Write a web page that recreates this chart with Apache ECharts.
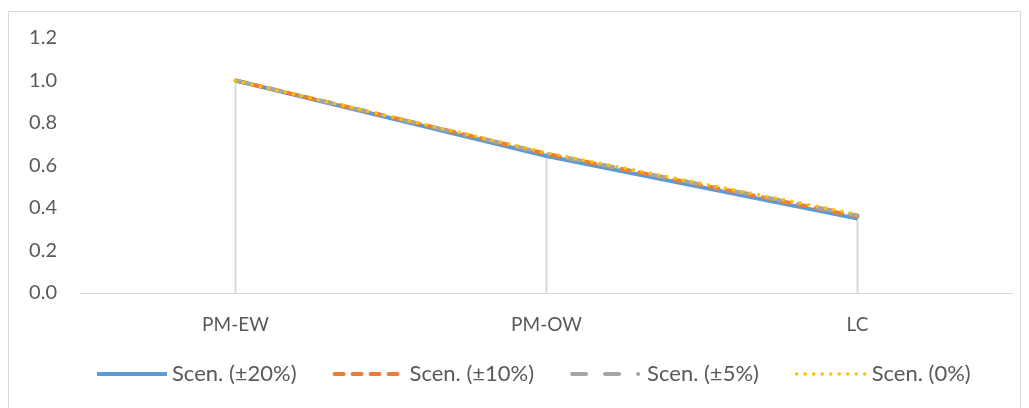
<!DOCTYPE html>
<html>
<head>
<meta charset="utf-8">
<script src="https://cdn.jsdelivr.net/npm/echarts@6/dist/echarts.min.js"></script>
<style>
  html, body { margin: 0; padding: 0; background: #fff; }
  #frame { position: absolute; left: 8px; top: 11px; width: 1013px; height: 400px; border: 1px solid #d9d9d9; box-sizing: border-box; }
  #chart { position: absolute; left: 0; top: 0; width: 1029px; height: 408px; }
</style>
</head>
<body>
<div id="frame"></div>
<div id="chart"></div>
<script>
// Categories and scenario values
const categories = ['PM-EW', 'PM-OW', 'LC'];
const scen20 = [1.0, 0.645, 0.35];
const scen10 = [1.0, 0.655, 0.36];
const scen5  = [1.0, 0.655, 0.365];
const scen0  = [1.0, 0.66, 0.37];
const seriesNames = ['Scen. (±20%)', 'Scen. (±10%)', 'Scen. (±5%)', 'Scen. (0%)'];
const yTicks = [0, 0.2, 0.4, 0.6, 0.8, 1.0, 1.2];

// drop lines reach up to the highest scenario at each category
const dropTops = categories.map((_, i) => Math.max(scen20[i], scen10[i], scen5[i], scen0[i]));

const font = 'Lato, "Open Sans", sans-serif';
const chart = echarts.init(document.getElementById('chart'));

const styles = [
  { color: '#5b9bd5', type: 'solid', width: 4, cap: 'butt' },
  { color: '#ed7d31', type: [9, 9], width: 4, cap: 'round' },
  { color: '#a5a5a5', type: [14, 19, 14, 19, 0.1, 19], width: 4, cap: 'round' },
  { color: '#ffc000', type: [0.1, 8.4], width: 3.5, cap: 'round' }
];
const values = [scen20, scen10, scen5, scen0];

const lines = seriesNames.map((name, i) => ({
  name, type: 'line', data: values[i], symbol: 'none', z: 3 + i,
  lineStyle: Object.assign({}, styles[i]),
  itemStyle: { color: styles[i].color }
}));

chart.setOption({
  animation: false,
  grid: { left: 80, right: 16, top: 38, bottom: 115 },
  xAxis: {
    type: 'category', data: categories, boundaryGap: true,
    axisLine: { lineStyle: { color: '#d9d9d9', width: 1 } },
    axisTick: { show: false },
    axisLabel: { color: '#595959', fontSize: 19, fontFamily: font, margin: 22 }
  },
  yAxis: {
    type: 'value', min: yTicks[0], max: yTicks[yTicks.length - 1], interval: 0.2,
    axisLine: { show: false }, axisTick: { show: false }, splitLine: { show: false },
    axisLabel: { color: '#595959', fontSize: 20, fontFamily: font, margin: 23,
      formatter: v => v.toFixed(1) }
  },
  legend: {
    data: seriesNames.map((name, i) => ({
      name,
      itemStyle: { opacity: 0 },
      lineStyle: Object.assign({}, styles[i])
    })),
    top: 363, left: 95, padding: 0, itemWidth: 70, itemHeight: 14, itemGap: 36,
    textStyle: { color: '#595959', fontSize: 22, fontFamily: font }
  },
  series: [
    { type: 'bar', data: dropTops, barWidth: 2, z: 1, silent: true,
      itemStyle: { color: '#d9d9d9' } }
  ].concat(lines)
});
</script>
</body>
</html>
